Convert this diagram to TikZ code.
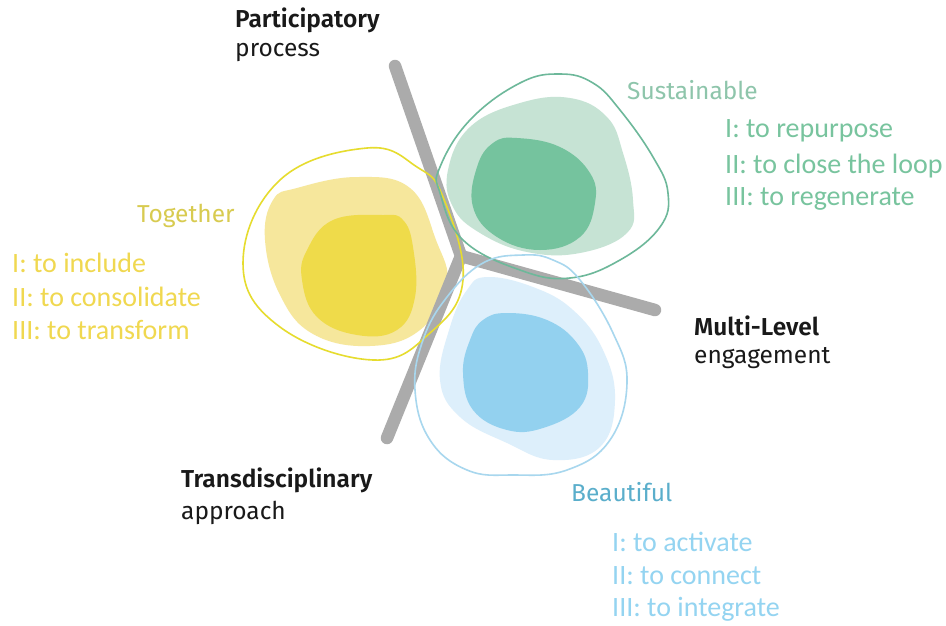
\documentclass[tikz,border=0pt]{standalone}
\usepackage{fontspec}
\setmainfont{Carlito}
\newfontfamily\headfont{Fira Sans}
\newfontfamily\headfontb{Fira Sans SemiBold}
\definecolor{ylout}{HTML}{E6DC2E}
\definecolor{ylfill}{HTML}{F6E79C}
\definecolor{yldark}{HTML}{EFDB4A}
\definecolor{yltxt}{HTML}{D8CB50}
\definecolor{ylitem}{HTML}{F0D850}
\definecolor{grout}{HTML}{6DB89A}
\definecolor{grfill}{HTML}{C6E3D4}
\definecolor{grdark}{HTML}{75C39E}
\definecolor{grtxt}{HTML}{8EC5AB}
\definecolor{gritem}{HTML}{78C49E}
\definecolor{blout}{HTML}{A8D7EE}
\definecolor{blfill}{HTML}{DDEFFB}
\definecolor{bldark}{HTML}{93D1EF}
\definecolor{bltxt}{HTML}{5AAECB}
\definecolor{blitem}{HTML}{94D4F1}
\definecolor{armgray}{HTML}{ABABAB}
\tikzset{
  head/.style={anchor=west,inner sep=0pt,font=\headfontb\fontsize{24.5}{28}\selectfont,text=black!90},
  sub/.style={anchor=west,inner sep=0pt,font=\headfont\fontsize{24.5}{28}\selectfont,text=black!90},
  lab/.style={anchor=west,inner sep=0pt,font=\headfont\fontsize{24.5}{28}\selectfont},
  item/.style={anchor=west,inner sep=0pt,font=\fontsize{28}{30}\selectfont},
  arm/.style={line width=12.5pt,armgray,line cap=round,line join=round},
  outl/.style={line width=1.6pt}
}
\begin{document}
\begin{tikzpicture}[x=1pt,y=-1pt]
\useasboundingbox[fill=white] (0,0) rectangle (946,625);
% fills
\fill[ylfill] plot[smooth cycle,tension=0.7] coordinates {(297,188)(357,177)(410,188)(436,240)(447,285)(420,330)(370,346)(313,334)(280,295)(265,240)(273,200)};
\fill[yldark] plot[smooth cycle,tension=0.7] coordinates {(383,215)(333,220)(307,250)(302,280)(317,317)(357,335)(397,330)(415,297)(413,247)(403,220)};
\fill[grfill] plot[smooth cycle,tension=0.7] coordinates {(448,170)(470,127)(520,103)(570,98)(607,117)(623,153)(633,200)(627,233)(580,253)(527,252)(480,233)(453,207)};
\fill[grdark] plot[smooth cycle,tension=0.7] coordinates {(517,138)(560,147)(590,173)(595,203)(580,237)(540,250)(497,237)(473,207)(477,167)(493,143)};
\fill[blfill] plot[smooth cycle,tension=0.7] coordinates {(487,277)(533,287)(573,310)(603,350)(615,400)(600,447)(553,460)(507,443)(460,417)(440,380)(450,327)(467,290)};
\fill[bldark] plot[smooth cycle,tension=0.7] coordinates {(507,313)(547,320)(577,343)(588,373)(580,407)(543,428)(507,430)(473,410)(463,373)(470,340)(483,320)};
% gray Y
\coordinate (jn) at (461,256);
\coordinate (ptop) at (395,66);
\coordinate (pright) at (655,310);
\coordinate (pbot) at (387,438);
\draw[arm] (ptop) -- (jn) -- (pbot);
\draw[arm] (jn) -- (pright);
% outlines
\draw[outl,ylout] plot[smooth cycle,tension=0.7] coordinates {(367,148)(417,167)(443,197)(463,280)(430,333)(373,360)(280,327)(243,263)(280,180)};
\draw[outl,grout] plot[smooth cycle,tension=0.7] coordinates {(560,74)(593,83)(620,110)(653,157)(668,193)(660,227)(620,260)(570,278)(520,270)(463,240)(440,193)(440,167)(470,120)(520,83)};
\draw[outl,blout] plot[smooth cycle,tension=0.7] coordinates {(523,255)(553,260)(580,280)(613,333)(627,383)(610,440)(567,470)(513,475)(467,470)(430,440)(415,390)(423,340)(447,297)(483,263)};
% labels
\node[head] (pa) at (235,20) {Participatory};
\node[sub] (pb) at (235,53) {process};
\node[head] (ma) at (694,326) {Multi-Level};
\node[sub] (mb) at (694,358) {engagement};
\node[head] (ta) at (181,480) {Transdisciplinary};
\node[sub] (tb) at (181,513) {approach};
\node[lab,text=grtxt] (sl) at (627,90) {Sustainable};
\node[lab,text=yltxt] (yl) at (137,216) {Together};
\node[lab,text=bltxt] (bl) at (571,492) {Beautiful};
\node[item,text=gritem] (g1) at (725,131) {I: to repurpose};
\node[item,text=gritem] (g2) at (725,166) {II: to close the loop};
\node[item,text=gritem] (g3) at (725,199) {III: to regenerate};
\node[item,text=ylitem] (y1) at (12,263) {I: to include};
\node[item,text=ylitem] (y2) at (12,297) {II: to consolidate};
\node[item,text=ylitem] (y3) at (12,330) {III: to transform};
\node[item,text=blitem] (b1) at (612,542) {I: to activate};
\node[item,text=blitem] (b2) at (612,576) {II: to connect};
\node[item,text=blitem] (b3) at (612,609) {III: to integrate};
\end{tikzpicture}
\end{document}
